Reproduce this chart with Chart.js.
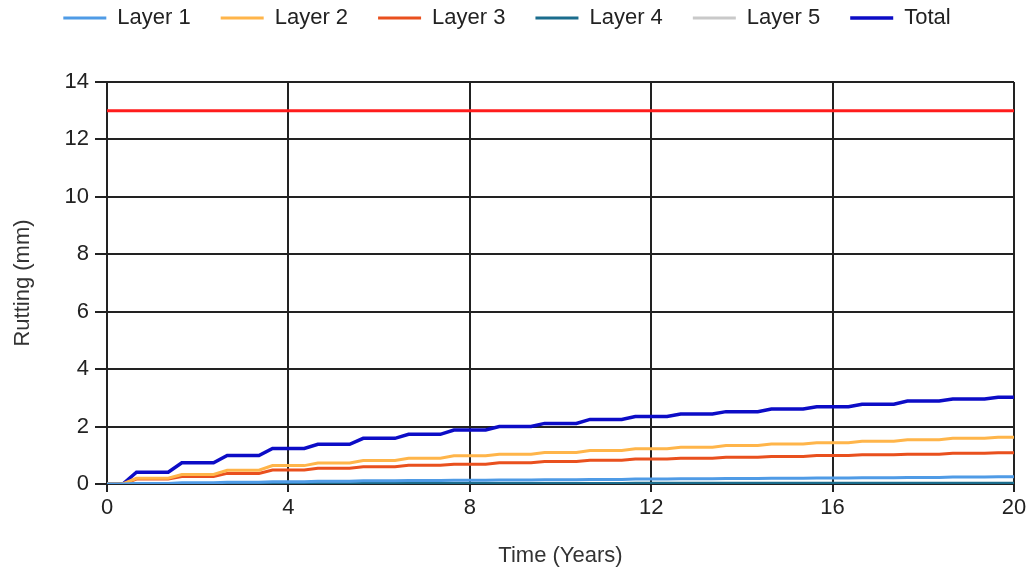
<!DOCTYPE html>
<html>
<head>
<meta charset="utf-8">
<script src="https://cdn.jsdelivr.net/npm/chart.js@4.4.1/dist/chart.umd.min.js"></script>
<style>
  html, body { margin: 0; padding: 0; background: #fff; }
  #wrap { width: 1032px; height: 575px; }
</style>
</head>
<body>
<div id="wrap"><canvas id="myChart" width="1032" height="575"></canvas></div>
<script>
// Rutting level reached at the end of each year (mm)
const years = [0, 1, 2, 3, 4, 5, 6, 7, 8, 9, 10, 11, 12, 13, 14, 15, 16, 17, 18, 19, 20];
const layer1 = [0, 0.02, 0.04, 0.06, 0.08, 0.10, 0.11, 0.12, 0.13, 0.14, 0.15, 0.16, 0.17, 0.18, 0.19, 0.20, 0.21, 0.22, 0.23, 0.24, 0.25];
const layer2 = [0, 0.20, 0.33, 0.48, 0.64, 0.73, 0.82, 0.90, 0.98, 1.04, 1.10, 1.17, 1.23, 1.28, 1.34, 1.39, 1.44, 1.49, 1.54, 1.59, 1.63];
const layer3 = [0, 0.17, 0.26, 0.37, 0.49, 0.55, 0.60, 0.65, 0.69, 0.74, 0.78, 0.83, 0.87, 0.90, 0.93, 0.96, 0.99, 1.02, 1.04, 1.07, 1.09];
const layer4 = [0, 0, 0.01, 0.01, 0.01, 0.01, 0.02, 0.02, 0.02, 0.02, 0.02, 0.02, 0.03, 0.03, 0.03, 0.03, 0.03, 0.03, 0.03, 0.03, 0.03];
const layer5 = [0, 0, 0, 0, 0, 0, 0, 0, 0, 0, 0, 0, 0, 0, 0, 0, 0, 0, 0, 0, 0];
const total = [0, 0.41, 0.74, 0.99, 1.24, 1.38, 1.59, 1.73, 1.88, 2.00, 2.11, 2.25, 2.35, 2.44, 2.52, 2.61, 2.69, 2.78, 2.89, 2.96, 3.02];
const limitValue = 13;

const seriesLabels = ['Layer 1', 'Layer 2', 'Layer 3', 'Layer 4', 'Layer 5', 'Total'];
const seriesValues = [layer1, layer2, layer3, layer4, layer5, total];
const seriesColors = ['#4f9be6', '#ffb54a', '#e9501e', '#1b6d8d', '#c9c9c9', '#0c0cc6'];

// the rutting grows in the warm part of each year and stays flat the rest
function stepPoints(levels) {
  let pts = [{ x: years[0], y: levels[0] }];
  for (let k = 1; k < years.length; k++) {
    pts.push({ x: years[k - 1] + 0.35, y: levels[k - 1] });
    pts.push({ x: years[k - 1] + 0.65, y: levels[k] });
  }
  pts.push({ x: years[years.length - 1], y: levels[levels.length - 1] });
  return pts;
}

let datasets = seriesLabels.map((label, i) => ({
  label: label,
  data: stepPoints(seriesValues[i]),
  borderColor: seriesColors[i],
  backgroundColor: seriesColors[i],
  borderWidth: label === 'Total' ? 3.5 : 3,
  pointRadius: 0,
  pointStyle: 'line',
  tension: 0,
}));

datasets.push({
  label: 'Limit',
  data: [{ x: years[0], y: limitValue }, { x: years[years.length - 1], y: limitValue }],
  borderColor: '#ff1c1c',
  backgroundColor: '#ff1c1c',
  borderWidth: 3,
  pointRadius: 0,
});

// extra room between the legend and the plot
const legendSpacer = {
  id: 'legendSpacer',
  beforeInit(chart) {
    const origFit = chart.legend.fit;
    chart.legend.fit = function () {
      origFit.bind(chart.legend)();
      this.height += 43;
    };
  },
};

const font = "'Liberation Sans', Arial, sans-serif";
const gridColor = '#222';

new Chart(document.getElementById('myChart'), {
  type: 'line',
  data: { datasets: datasets },
  plugins: [legendSpacer],
  options: {
    responsive: false,
    animation: false,
    layout: { padding: { left: 0, right: 18, top: -23, bottom: 0 } },
    plugins: {
      tooltip: { enabled: false },
      legend: {
        position: 'top',
        labels: {
          usePointStyle: true,
          pointStyle: 'line',
          pointStyleWidth: 43,
          padding: 30,
          color: '#222',
          font: { family: font, size: 22 },
          filter: (item) => item.text !== 'Limit',
        },
      },
    },
    scales: {
      x: {
        type: 'linear',
        min: 0,
        max: 20,
        afterFit: (scale) => { scale.height = 91; },
        ticks: { stepSize: 4, color: '#222', padding: 3, maxRotation: 0, font: { family: font, size: 22 } },
        grid: { color: gridColor, lineWidth: 2, tickLength: 8 },
        border: { color: gridColor, width: 2 },
        title: { display: true, text: 'Time (Years)', color: '#333', padding: { top: 4, bottom: 6 }, font: { family: font, size: 22 } },
      },
      y: {
        min: 0,
        max: 14,
        afterFit: (scale) => { scale.width = 107; },
        ticks: { stepSize: 2, color: '#222', padding: 6, font: { family: font, size: 22 } },
        grid: { color: gridColor, lineWidth: 2, tickLength: 12 },
        border: { color: gridColor, width: 2 },
        title: { display: true, text: 'Rutting (mm)', color: '#333', padding: { top: 10, bottom: 4 }, font: { family: font, size: 22 } },
      },
    },
  },
});
</script>
</body>
</html>
